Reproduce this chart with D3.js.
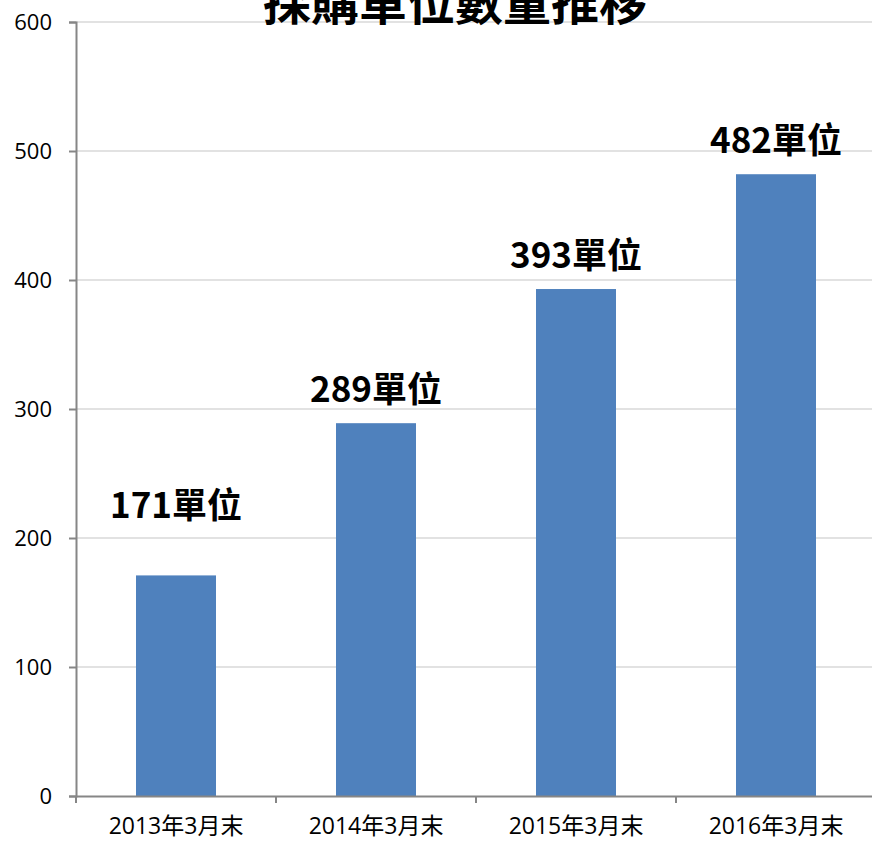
<!DOCTYPE html>
<html>
<head>
<meta charset="utf-8">
<script src="https://cdn.jsdelivr.net/npm/d3@7"></script>
<style>
  body { margin: 0; background: #fff; }
</style>
</head>
<body>
<div id="chart"></div>
<script>
// Chart data
var categories = ["2013年3月末", "2014年3月末", "2015年3月末", "2016年3月末"];
var values = [171, 289, 393, 482];
var yTicks = [0, 100, 200, 300, 400, 500, 600];
var titleText = "採購單位數量推移";
var unit = "單位";

var width = 872,
    height = 842,
    margin = {top: 22, right: -4, bottom: 46, left: 76};

var innerWidth = width - margin.left - margin.right,
    innerHeight = height - margin.top - margin.bottom;

var svg = d3.select("#chart").append("svg")
    .attr("width", width)
    .attr("height", height);

var g = svg.append("g")
    .attr("transform", "translate(" + margin.left + "," + margin.top + ")");

// Scales
var xScale = d3.scaleBand()
    .domain(categories)
    .range([0, innerWidth])
    .paddingInner(0.6)
    .paddingOuter(0.3);

var xGroup = d3.scaleBand()
    .domain(categories)
    .range([0, innerWidth]);

var yScale = d3.scaleLinear()
    .domain([0, 600])
    .range([innerHeight, 0]);

// Gridlines
g.selectAll(".grid")
    .data(yTicks.filter(function(d) { return d > 0; }))
    .enter().append("line")
    .attr("class", "grid")
    .attr("x1", 0)
    .attr("x2", width - margin.left)
    .attr("y1", function(d) { return yScale(d); })
    .attr("y2", function(d) { return yScale(d); })
    .attr("stroke", "#d9d9d9")
    .attr("stroke-width", 1.5);

// Bars
g.selectAll(".bar")
    .data(values)
    .enter().append("rect")
    .attr("class", "bar")
    .attr("x", function(d, i) { return xScale(categories[i]); })
    .attr("y", function(d) { return yScale(d); })
    .attr("width", xScale.bandwidth())
    .attr("height", function(d) { return innerHeight - yScale(d); })
    .attr("fill", "#4f81bd");

// Data labels (the first one sits higher in the original)
g.selectAll(".label")
    .data(values)
    .enter().append("text")
    .attr("class", "label")
    .attr("x", function(d, i) { return xScale(categories[i]) + xScale.bandwidth() / 2; })
    .attr("y", function(d, i) { return yScale(d) - (i === 0 ? 57 : 21); })
    .attr("text-anchor", "middle")
    .style("font-family", "'Noto Sans CJK TC', sans-serif")
    .style("font-weight", "bold")
    .style("font-size", "35px")
    .text(function(d) { return d + unit; });

// Y axis
var yAxis = g.append("g")
    .call(d3.axisLeft(yScale).tickValues(yTicks).tickSize(7).tickPadding(17));
yAxis.select(".domain").attr("stroke", "#868686").attr("stroke-width", 2);
yAxis.selectAll(".tick line").attr("stroke", "#868686").attr("stroke-width", 2);
yAxis.selectAll(".tick text")
    .style("font-family", "'Open Sans', sans-serif")
    .style("font-size", "22px")
    .attr("fill", "#000");

// X axis
var xAxis = g.append("g")
    .attr("transform", "translate(0," + innerHeight + ")")
    .call(d3.axisBottom(xGroup).tickSize(0).tickPadding(22));
xAxis.select(".domain").attr("stroke", "#868686").attr("stroke-width", 2);
xAxis.selectAll(".tick text")
    .style("font-family", "'Open Sans', 'Noto Sans CJK TC', sans-serif")
    .style("font-size", "23px")
    .attr("fill", "#000");

// Category separators on x axis
xAxis.selectAll(".sep")
    .data(categories)
    .enter().append("line")
    .attr("class", "sep")
    .attr("x1", function(d) { return xGroup(d); })
    .attr("x2", function(d) { return xGroup(d); })
    .attr("y1", 0)
    .attr("y2", 7)
    .attr("stroke", "#868686")
    .attr("stroke-width", 2);

// Title, cut off at top
svg.append("text")
    .attr("x", 455)
    .attr("y", 20)
    .attr("text-anchor", "middle")
    .style("font-family", "'Noto Sans CJK TC', sans-serif")
    .style("font-weight", "bold")
    .style("font-size", "48px")
    .text(titleText);
</script>
</body>
</html>
